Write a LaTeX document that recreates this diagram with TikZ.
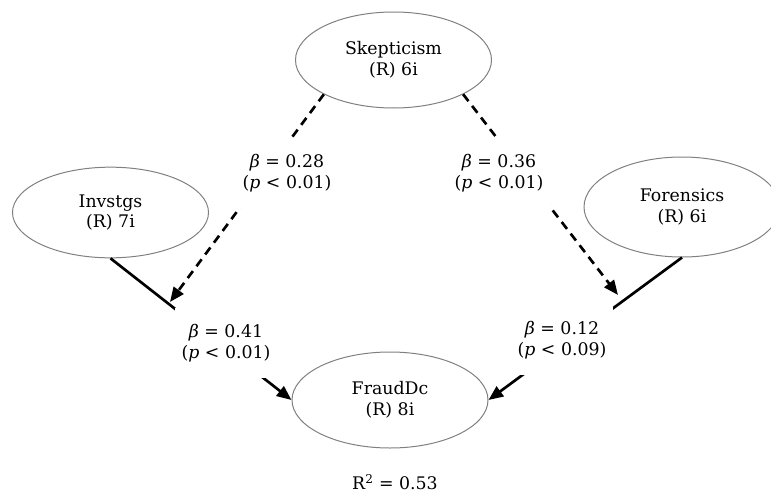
\documentclass[tikz,border=0pt]{standalone}
\usepackage{fontspec}
\setmainfont{DejaVu Serif}
\usetikzlibrary{arrows.meta,shapes.geometric}

\tikzset{
  latent/.style={ellipse, draw=gray, line width=0.75pt, minimum width=147pt,
    minimum height=72pt, align=center, font=\fontsize{13}{15.5}\selectfont},
  coef/.style={fill=white, align=center, inner xsep=5pt, inner ysep=12pt,
    font=\fontsize{13}{15.5}\selectfont},
  effect/.style={line width=2pt},
  moder/.style={line width=2pt, dash pattern=on 6.5pt off 4.5pt},
  tip/.style={-{Triangle[length=11pt,width=9pt]}}
}

\begin{document}
\begin{tikzpicture}[x=0.75pt,y=-0.75pt]
  \useasboundingbox (0,0) rectangle (771,493);
  \node[latent] (skep) at (393.5,60) {Skepticism\\(R) 6i};
  \node[latent, minimum height=68pt] (inv) at (110.5,212.5) {Invstgs\\(R) 7i};
  \node[latent, minimum height=75pt] (for) at (682,207) {Forensics\\(R) 6i};
  \node[latent] (fraud) at (390,400) {FraudDc\\(R) 8i};
  \coordinate (modL) at (170,302);
  \coordinate (modR) at (618,295);
  % direct effects
  \draw[effect,tip] (inv.south) -- (fraud.west);
  \draw[effect,tip] (for.south) -- (fraud.east);
  % moderation by skepticism
  \draw[moder,tip] (skep.south west) -- (modL);
  \draw[moder,tip] (skep.south east) -- (modR);
  % path coefficients
  \node[coef] (b28) at (287,173) {\textit{β} = 0.28\\(\textit{p} < 0.01)};
  \node[coef] (b36) at (499,173) {\textit{β} = 0.36\\(\textit{p} < 0.01)};
  \node[coef] (b41) at (226,343) {\textit{β} = 0.41\\(\textit{p} < 0.01)};
  \node[coef] (b12) at (562,340) {\textit{β} = 0.12\\(\textit{p} < 0.09)};
  \node[font=\fontsize{13}{15.5}\selectfont] (r2) at (395,482) {R\textsuperscript{2} = 0.53};
\end{tikzpicture}
\end{document}
